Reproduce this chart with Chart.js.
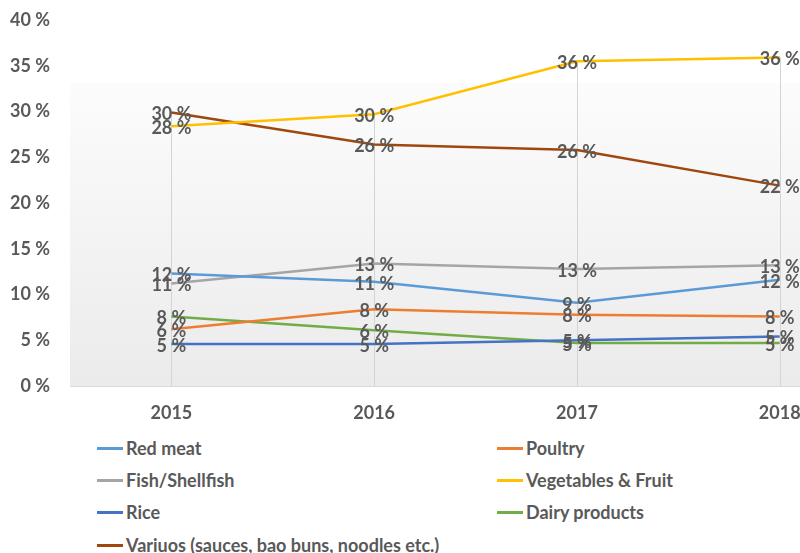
<!DOCTYPE html>
<html>
<head>
<meta charset="utf-8">
<script src="https://cdn.jsdelivr.net/npm/chart.js@4/dist/chart.umd.min.js"></script>
<style>
  html,body{margin:0;padding:0;background:#fff;}
  #wrap{position:relative;width:800px;height:553px;overflow:hidden;}
  #c{position:absolute;left:0;top:0;}
  .lg{position:absolute;font-family:Lato, sans-serif;font-weight:bold;font-size:18px;color:#595959;white-space:nowrap;line-height:20px;}
  .lg span.sw{position:absolute;left:0;top:9px;width:26px;height:3px;}
  .lg span.tx{position:absolute;left:29px;top:0;}
</style>
</head>
<body>
<div id="wrap">
  <canvas id="c" width="800" height="430"></canvas>
</div>
<script>
const years = [2015, 2016, 2017, 2018];
const yTicks = [0, 5, 10, 15, 20, 25, 30, 35, 40];

const seriesNames = ['Red meat', 'Poultry', 'Fish/Shellfish', 'Vegetables & Fruit', 'Rice', 'Dairy products', 'Variuos (sauces, bao buns, noodles etc.)'];
const seriesColors = ['#5B9BD5', '#ED7D31', '#A5A5A5', '#FFC000', '#4472C4', '#70AD47', '#9E480E'];

const redMeat   = [12.3, 11.4, 9.1, 11.6];
const poultry   = [6.2, 8.4, 7.8, 7.6];
const fish      = [11.2, 13.4, 12.8, 13.2];
const vegFruit  = [28.4, 29.7, 35.5, 35.9];
const rice      = [4.6, 4.6, 5.0, 5.4];
const dairy     = [7.6, 6.1, 4.7, 4.7];
const various   = [29.9, 26.4, 25.8, 21.9];

const seriesValues = [redMeat, poultry, fish, vegFruit, rice, dairy, various];

const FONT = 'Lato, sans-serif';
const TXT = '#595959';

const datasets = seriesNames.map((n, i) => ({
  label: n,
  data: years.map((y, j) => ({x: y, y: seriesValues[i][j]})),
  borderColor: seriesColors[i],
  backgroundColor: seriesColors[i],
  borderWidth: 2.5,
  pointRadius: 0,
  tension: 0,
  fill: false,
  clip: false
}));

const bgPlugin = {
  id: 'bg',
  beforeDraw(chart) {
    const {ctx, chartArea: a} = chart;
    const top = a.top + (a.bottom - a.top) * 0.172;
    const g = ctx.createLinearGradient(0, top, 0, a.bottom);
    g.addColorStop(0, '#fcfcfc');
    g.addColorStop(1, '#ebebeb');
    ctx.save();
    ctx.fillStyle = g;
    ctx.fillRect(a.left, top, a.right - a.left, a.bottom - top);
    ctx.restore();
  },
  beforeDatasetsDraw(chart) {
    const {ctx, chartArea: a, scales} = chart;
    ctx.save();
    ctx.strokeStyle = '#d4d4d4';
    ctx.lineWidth = 1;
    years.forEach((yr, j) => {
      const mx = Math.max(...seriesValues.map(s => s[j]));
      const px = Math.round(scales.x.getPixelForValue(yr)) + 0.5;
      ctx.beginPath();
      ctx.moveTo(px, scales.y.getPixelForValue(mx));
      ctx.lineTo(px, a.bottom);
      ctx.stroke();
    });
    ctx.strokeStyle = '#d9d9d9';
    ctx.beginPath();
    ctx.moveTo(a.left, Math.round(a.bottom) + 0.5);
    ctx.lineTo(a.right, Math.round(a.bottom) + 0.5);
    ctx.stroke();
    ctx.restore();
  },
  afterDatasetsDraw(chart) {
    const {ctx} = chart;
    ctx.save();
    ctx.font = 'bold 18px ' + FONT;
    ctx.fillStyle = TXT;
    ctx.textAlign = 'center';
    ctx.textBaseline = 'middle';
    chart.data.datasets.forEach((ds, i) => {
      const meta = chart.getDatasetMeta(i);
      meta.data.forEach((pt, j) => {
        ctx.fillText(Math.round(seriesValues[i][j]) + ' %', pt.x, pt.y + 2);
      });
    });
    ctx.restore();
  }
};

new Chart(document.getElementById('c'), {
  type: 'line',
  data: {datasets},
  options: {
    responsive: false,
    animation: false,
    events: [],
    layout: {padding: {top: 20, left: 0, right: 0, bottom: 0}},
    plugins: {legend: {display: false}, tooltip: {enabled: false}},
    scales: {
      x: {
        type: 'linear',
        min: 2014.5,
        max: 2018.1,
        afterBuildTicks(s) { s.ticks = years.map(v => ({value: v})); },
        afterFit(s) { s.height = 44; s.paddingLeft = 0; s.paddingRight = 0; },
        grid: {display: false, drawTicks: false},
        border: {display: false},
        ticks: {
          callback: v => String(v),
          font: {family: FONT, size: 18, weight: 'bold'},
          color: TXT,
          padding: 16,
          maxRotation: 0,
          autoSkip: false
        }
      },
      y: {
        min: 0,
        max: 40,
        afterBuildTicks(s) { s.ticks = yTicks.map(v => ({value: v})); },
        afterFit(s) { s.width = 70; s.paddingTop = 0; s.paddingBottom = 0; },
        grid: {display: false, drawTicks: false},
        border: {display: false},
        ticks: {
          callback: v => v + ' %',
          font: {family: FONT, size: 18, weight: 'bold'},
          color: TXT,
          padding: 20
        }
      }
    }
  },
  plugins: [bgPlugin]
});

// HTML legend built from the datasets
const wrap = document.getElementById('wrap');
const colX = [97, 497];
const rowY = [438, 470, 502, 535];
seriesNames.forEach((n, i) => {
  const d = document.createElement('div');
  d.className = 'lg';
  d.style.left = colX[i % 2] + 'px';
  d.style.top = rowY[Math.floor(i / 2)] + 'px';
  d.innerHTML = '<span class="sw" style="background:' + seriesColors[i] + '"></span><span class="tx"></span>';
  d.querySelector('.tx').textContent = n;
  wrap.appendChild(d);
});
</script>
</body>
</html>
